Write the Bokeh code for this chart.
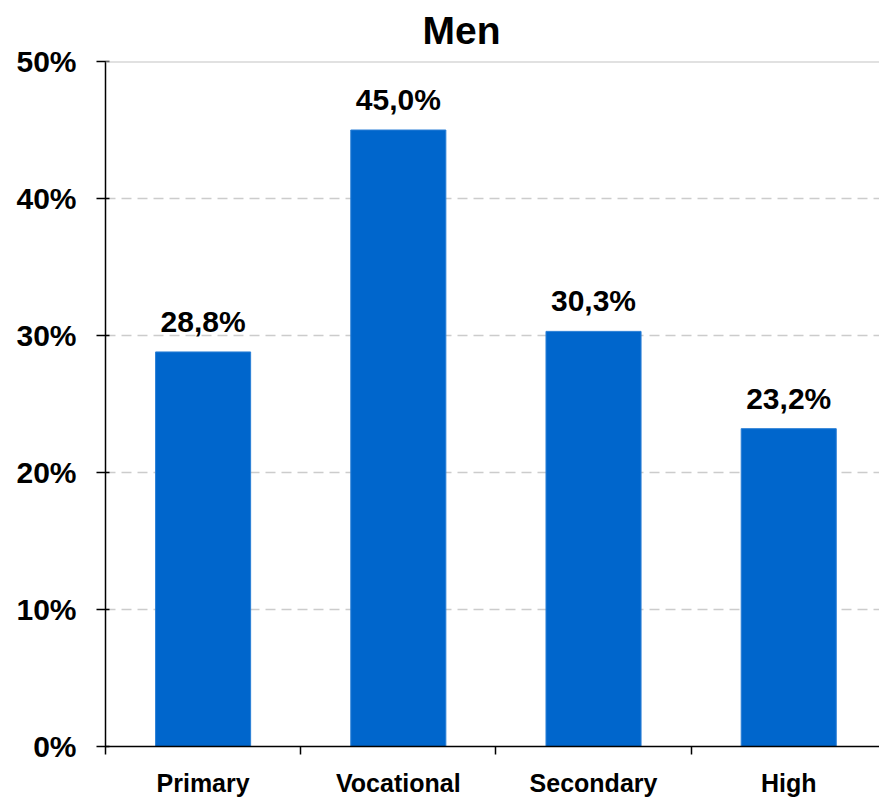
from bokeh.plotting import figure
from bokeh.models import (ColumnDataSource, Range1d, FixedTicker, PrintfTickFormatter,
                          LabelSet, Span)
from bokeh.core.properties import value
from bokeh.embed import file_html
from bokeh.resources import INLINE

# ---- data ----
categories = ["Primary", "Vocational", "Secondary", "High"]
values = [28.8, 45.0, 30.3, 23.2]
y_ticks = [0, 10, 20, 30, 40, 50]
title_text = "Men"

value_labels = [f"{v:.1f}".replace(".", ",") + "%" for v in values]
xs = list(range(len(categories)))
src = ColumnDataSource(dict(x=xs, top=values, label=value_labels))

FONT = "Liberation Sans"

p = figure(width=879, height=799, output_backend="svg", toolbar_location=None,
           x_range=Range1d(-0.5, 3.465), y_range=Range1d(0, 50),
           min_border_left=105, min_border_right=0, min_border_top=61,
           min_border_bottom=52, title=title_text)
p.outline_line_color = None
p.background_fill_color = "white"
p.border_fill_color = "white"

# title
p.title.align = "left"
p.title.vertical_align = "top"
p.title.offset = 317
p.title.standoff = 16
p.title.text_font = FONT
p.title.text_font_style = "bold"
p.title.text_font_size = "39px"
p.title.text_color = "black"

p.vbar(x="x", top="top", width=0.487, source=src,
       fill_color="#0066CC", line_color="#2a7fd6", line_width=1)

# x axis
p.xaxis.ticker = FixedTicker(ticks=xs, minor_ticks=[i - 0.5 for i in range(len(categories) + 1)])
p.xaxis.major_label_overrides = {i: c for i, c in enumerate(categories)}
p.xaxis.major_tick_out = 0
p.xaxis.major_tick_in = 0
p.xaxis.minor_tick_out = 8
p.xaxis.minor_tick_in = 0
p.xaxis.minor_tick_line_color = "black"
p.xaxis.minor_tick_line_width = 1.5
p.xaxis.axis_line_color = "black"
p.xaxis.axis_line_width = 1.5
p.xaxis.major_label_text_font = FONT
p.xaxis.major_label_text_font_style = "bold"
p.xaxis.major_label_text_font_size = "25px"
p.xaxis.major_label_text_color = "black"
p.xaxis.major_label_standoff = 14

# y axis
p.yaxis.ticker = FixedTicker(ticks=y_ticks, minor_ticks=[])
p.yaxis.formatter = PrintfTickFormatter(format="%d%%")
p.yaxis.major_tick_out = 9
p.yaxis.major_tick_in = 4
p.yaxis.major_tick_line_color = "black"
p.yaxis.major_tick_line_width = 1.5
p.yaxis.minor_tick_line_color = None
p.yaxis.axis_line_color = "black"
p.yaxis.axis_line_width = 1.5
p.yaxis.major_label_text_font = FONT
p.yaxis.major_label_text_font_style = "bold"
p.yaxis.major_label_text_font_size = "30px"
p.yaxis.major_label_text_color = "black"
p.yaxis.major_label_standoff = 20

# grid
p.xgrid.visible = False
p.ygrid.grid_line_color = "#cccccc"
p.ygrid.grid_line_dash = "10 6"
p.ygrid.grid_line_width = 1.5
p.add_layout(Span(location=y_ticks[-1], dimension="width", line_color="#c4c4c4", line_width=2))

# value labels
p.add_layout(LabelSet(x="x", y="top", text="label", source=src, text_align="center",
                      text_baseline="alphabetic", y_offset=20, text_font=value(FONT),
                      text_font_style="bold", text_font_size="30px", text_color="black"))

open("out.html", "w").write(file_html(p, INLINE))
